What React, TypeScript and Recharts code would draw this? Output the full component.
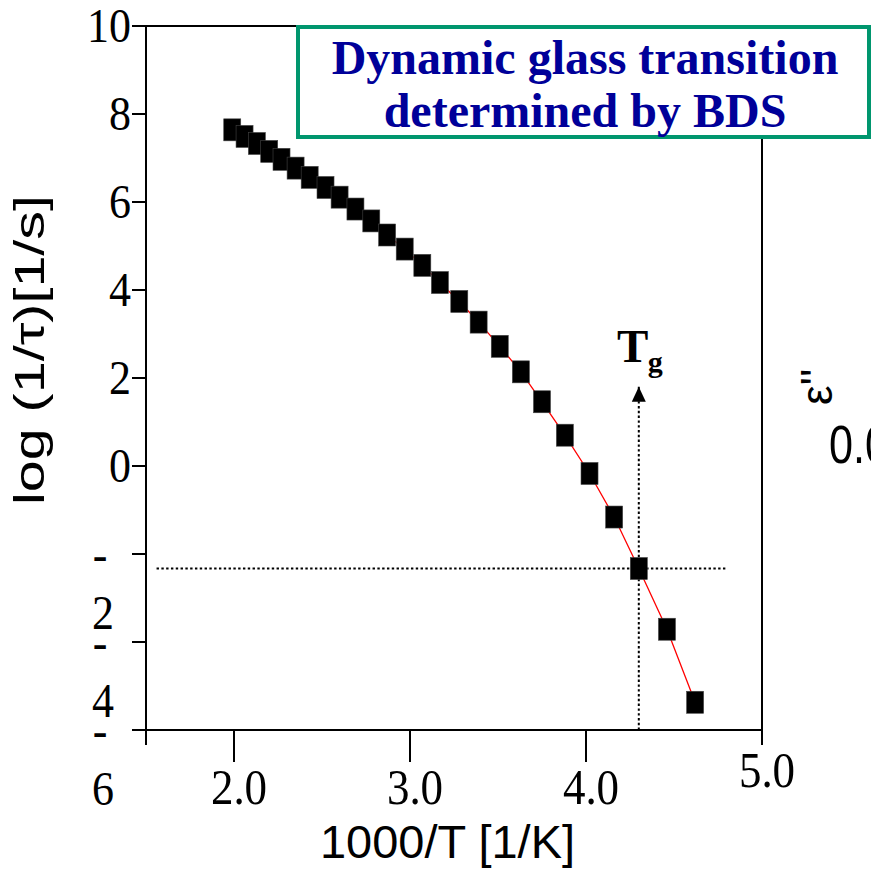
import { LineChart, Line, XAxis, YAxis, ReferenceLine, ReferenceDot } from 'recharts'

// 1000/T [1/K] and log(1/tau) of the alpha relaxation
const invT = [
  1.99, 2.06, 2.13, 2.2, 2.27, 2.35, 2.43, 2.52, 2.6, 2.69, 2.78, 2.87, 2.97,
  3.07, 3.17, 3.28, 3.39, 3.51, 3.63, 3.75, 3.88, 4.02, 4.16, 4.3, 4.46, 4.62,
]
const logRate = [
  7.64, 7.49, 7.33, 7.15, 6.97, 6.77, 6.56, 6.33, 6.11, 5.84, 5.57, 5.25, 4.93,
  4.56, 4.17, 3.74, 3.27, 2.72, 2.14, 1.46, 0.7, -0.17, -1.16, -2.33, -3.71, -5.37,
]

const xTicks = [1.5, 2, 3, 4, 5]
const yTicks = [10, 8, 6, 4, 2, 0, -2, -4, -6]
const xDomain: [number, number] = [1.5, 5]
const yDomain: [number, number] = [-6, 10]

// glass transition point and its guide lines
const tgIndex = 23
const tgArrowTip = 1.8
const tgLineFrom = 1.56
const tgLineTo = 4.8

const data = invT.map((x, i) => ({ x, y: logRate[i] }))
const tg = data[tgIndex]

const serif = '"Liberation Serif", "Times New Roman", serif'
const sans = '"Liberation Sans", Arial, sans-serif'

function Square(props: any) {
  const { cx, cy, index } = props
  if (cx == null || cy == null) return null
  return (
    <rect
      key={`sq-${index}`}
      x={cx - 8.5}
      y={cy - 11}
      width={17}
      height={22}
      fill="#000"
      stroke="#444"
      strokeWidth={0.6}
    />
  )
}

function Stretched({ x, y, sy, children, ...rest }: any) {
  return (
    <text transform={`translate(${x},${y}) scale(1,${sy})`} x={0} y={0} fill="#000" {...rest}>
      {children}
    </text>
  )
}

function YTick({ x, y, payload }: any) {
  const v = payload.value as number
  if (v < 0) {
    // negative labels wrap: the minus sits on the tick, the digit below it
    return (
      <g>
        <Stretched x={x - 32} y={y + 17} sy={1.1} textAnchor="middle" fontFamily={serif} fontSize={44}>
          -
        </Stretched>
        <Stretched x={x - 29} y={y + 75} sy={1.1} textAnchor="middle" fontFamily={serif} fontSize={44}>
          {Math.abs(v)}
        </Stretched>
      </g>
    )
  }
  return (
    <Stretched x={x - 1} y={y + 16} sy={1.1} textAnchor="end" fontFamily={serif} fontSize={44}>
      {v}
    </Stretched>
  )
}

function XTick({ x, y, payload }: any) {
  const v = payload.value as number
  const edge = v === xDomain[0] || v === xDomain[1]
  const len = edge ? 15 : 32
  return (
    <g>
      <line x1={x} x2={x} y1={y} y2={y + len} stroke="#000" strokeWidth={2} />
      {v !== xDomain[0] && (
        <Stretched x={x + 5} y={y + len + 42} sy={1.14} textAnchor="middle" fontFamily={serif} fontSize={45}>
          {v.toFixed(1)}
        </Stretched>
      )}
    </g>
  )
}

function TgMarker({ cx, cy }: any) {
  if (cx == null || cy == null) return null
  return (
    <g>
      <polygon points={`${cx},${cy} ${cx - 7},${cy + 15} ${cx + 7},${cy + 15}`} fill="#000" />
      <text x={cx - 6} y={cy - 25} textAnchor="middle" fontFamily={serif} fontWeight="bold" fontSize={47}>
        T
      </text>
      <text x={cx + 9} y={cy - 15} fontFamily={serif} fontWeight="bold" fontSize={30}>
        g
      </text>
    </g>
  )
}

export default function App() {
  return (
    <div
      style={{
        position: 'absolute',
        left: 0,
        top: 0,
        width: 871,
        height: 872,
        overflow: 'hidden',
        background: '#fff',
      }}
    >
      <LineChart
        width={871}
        height={872}
        data={data}
        margin={{ top: 26, right: 109, bottom: 82, left: 86 }}
      >
        <XAxis
          dataKey="x"
          type="number"
          domain={xDomain}
          ticks={xTicks}
          interval={0}
          height={60}
          tickSize={0}
          tickMargin={0}
          tickLine={false}
          axisLine={{ stroke: '#000', strokeWidth: 2 }}
          tick={<XTick />}
        />
        <YAxis
          type="number"
          domain={yDomain}
          ticks={yTicks}
          interval={0}
          width={60}
          tickSize={14}
          tickMargin={0}
          tickLine={{ stroke: '#000', strokeWidth: 2 }}
          axisLine={{ stroke: '#000', strokeWidth: 2 }}
          tick={<YTick />}
        />
        {/* frame: top and right edges */}
        <ReferenceLine y={yDomain[1]} stroke="#000" strokeWidth={2} />
        <ReferenceLine x={xDomain[1]} stroke="#000" strokeWidth={2} />
        <ReferenceLine
          segment={[
            { x: tgLineFrom, y: tg.y },
            { x: tgLineTo, y: tg.y },
          ]}
          stroke="#000"
          strokeWidth={2}
          strokeDasharray="2.4 2.4"
        />
        <ReferenceLine
          segment={[
            { x: tg.x, y: yDomain[0] },
            { x: tg.x, y: tgArrowTip },
          ]}
          stroke="#000"
          strokeWidth={2}
          strokeDasharray="2.4 2.4"
        />
        <ReferenceDot x={tg.x} y={tgArrowTip} r={1} shape={<TgMarker />} />
        <Line
          dataKey="y"
          type="linear"
          stroke="#ff0000"
          strokeWidth={1.3}
          dot={<Square />}
          activeDot={false}
          isAnimationActive={false}
        />
      </LineChart>

      <svg
        width={871}
        height={872}
        style={{ position: 'absolute', left: 0, top: 0, pointerEvents: 'none' }}
      >
        <rect x={298} y={27} width={571} height={110} fill="#fff" stroke="#00966e" strokeWidth={4} />
        <text x={585} y={74} textAnchor="middle" fontFamily={serif} fontWeight="bold" fontSize={48} fill="#000099">
          Dynamic glass transition
        </text>
        <text x={585} y={127} textAnchor="middle" fontFamily={serif} fontWeight="bold" fontSize={48} fill="#000099">
          determined by BDS
        </text>

        <text
          transform="translate(44,350) rotate(-90)"
          textAnchor="middle"
          fontFamily={sans}
          fontSize={43}
          textLength={310}
          lengthAdjust="spacingAndGlyphs"
          fill="#000"
        >
          log (1/τ)[1/s]
        </text>
        <text
          x={447.5}
          y={858}
          textAnchor="middle"
          fontFamily={sans}
          fontSize={46}
          textLength={255}
          lengthAdjust="spacingAndGlyphs"
          fill="#000"
        >
          1000/T [1/K]
        </text>

        <text transform="translate(832,405) rotate(-90)" fontFamily={sans} fontSize={44} fill="#000">
          ε''
        </text>
        <text transform="translate(829,463) scale(0.8,1)" fontFamily={sans} fontSize={54} fill="#000">
          0.0
        </text>
      </svg>
    </div>
  )
}
